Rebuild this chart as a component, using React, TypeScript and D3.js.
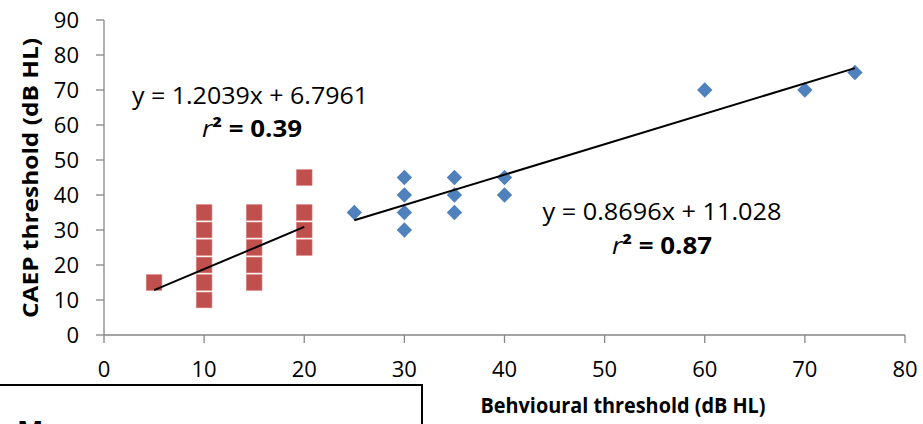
import React from 'react';
import * as d3 from 'd3';

// red series (squares)
const redX = [5, 10, 10, 10, 10, 10, 10, 15, 15, 15, 15, 15, 20, 20, 20, 20];
const redY = [15, 10, 15, 20, 25, 30, 35, 15, 20, 25, 30, 35, 25, 30, 35, 45];
// blue series (diamonds)
const blueX = [25, 30, 30, 30, 30, 35, 35, 35, 40, 40, 60, 70, 75];
const blueY = [35, 30, 35, 40, 45, 35, 40, 45, 40, 45, 70, 70, 75];

const xTicks = [0, 10, 20, 30, 40, 50, 60, 70, 80];
const yTicks = [0, 10, 20, 30, 40, 50, 60, 70, 80, 90];

// trendlines: slope, intercept, x range
const redFit = { m: 1.2039, b: 6.7961, from: 5, to: 20 };
const blueFit = { m: 0.8696, b: 11.028, from: 25, to: 75 };

const FONT = "'Open Sans', 'Lato', sans-serif";

const App = () => {
  const width = 923;
  const height = 424;

  const x = d3.scaleLinear().domain([0, 80]).range([104, 905]);
  const y = d3.scaleLinear().domain([0, 90]).range([335, 20]);

  const axisColor = '#868686';
  const red = '#C0504D';
  const blue = '#4F81BD';

  const fitLine = (f: { m: number; b: number; from: number; to: number }) =>
    d3.line<number>()
      .x(d => x(d))
      .y(d => y(f.m * d + f.b))([f.from, f.to]) || '';

  const diamond = d3.symbol().type(d3.symbolDiamond2).size(150)() || '';

  return (
    <svg
      width={width}
      height={height}
      style={{ position: 'absolute', left: 0, top: 0, background: 'white' }}
      fontFamily={FONT}
    >
      {/* axes */}
      <line x1={x(0)} x2={x(0)} y1={y(90)} y2={y(0)} stroke={axisColor} strokeWidth={1.3} />
      <line x1={x(0)} x2={x(80)} y1={y(0)} y2={y(0)} stroke={axisColor} strokeWidth={1.3} />
      {yTicks.map(t => (
        <g key={'y' + t}>
          <line x1={x(0) - 8} x2={x(0)} y1={y(t)} y2={y(t)} stroke={axisColor} strokeWidth={1.3} />
          <text x={79} y={y(t) + 8} textAnchor="end" fontSize={22} fill="#000">{t}</text>
        </g>
      ))}
      {xTicks.map(t => (
        <g key={'x' + t}>
          <line x1={x(t)} x2={x(t)} y1={y(0)} y2={y(0) + 8} stroke={axisColor} strokeWidth={1.3} />
          <text x={x(t)} y={377} textAnchor="middle" fontSize={22} fill="#000">{t}</text>
        </g>
      ))}

      {/* axis titles */}
      <text
        transform={`translate(38, 178) rotate(-90)`}
        textAnchor="middle"
        fontSize={21}
        fontWeight="bold"
        textLength={280}
        lengthAdjust="spacingAndGlyphs"
      >
        CAEP threshold (dB HL)
      </text>
      <text
        x={623}
        y={413}
        textAnchor="middle"
        fontSize={22}
        fontWeight="bold"
        textLength={285}
        lengthAdjust="spacingAndGlyphs"
      >
        Behvioural threshold (dB HL)
      </text>

      {/* red squares */}
      {redX.map((v, i) => (
        <rect
          key={'r' + i}
          x={x(v) - 7.8}
          y={y(redY[i]) - 7.8}
          width={15.6}
          height={15.6}
          fill={red}
          stroke="#d87a77"
          strokeWidth={0.6}
        />
      ))}

      {/* blue diamonds */}
      {blueX.map((v, i) => (
        <path key={'b' + i} d={diamond} transform={`translate(${x(v)},${y(blueY[i])})`} fill={blue} />
      ))}

      {/* trendlines */}
      <path d={fitLine(redFit)} stroke="#000" strokeWidth={2} fill="none" />
      <path d={fitLine(blueFit)} stroke="#000" strokeWidth={2} fill="none" />

      {/* equations */}
      <text x={250} y={104} textAnchor="middle" fontSize={23} textLength={236} lengthAdjust="spacingAndGlyphs">
        y = 1.2039x + 6.7961
      </text>
      <text x={252} y={137} textAnchor="middle" fontSize={23} textLength={100} lengthAdjust="spacingAndGlyphs">
        <tspan fontStyle="italic">r</tspan>
        <tspan fontWeight="bold">² = 0.39</tspan>
      </text>
      <text x={662} y={220} textAnchor="middle" fontSize={23} textLength={239} lengthAdjust="spacingAndGlyphs">
        y = 0.8696x + 11.028
      </text>
      <text x={662} y={254} textAnchor="middle" fontSize={23} textLength={100} lengthAdjust="spacingAndGlyphs">
        <tspan fontStyle="italic">r</tspan>
        <tspan fontWeight="bold">² = 0.87</tspan>
      </text>

      {/* box peeking in at bottom left */}
      <rect x={-5} y={385} width={427} height={100} fill="white" stroke="#000" strokeWidth={2} />
      <text x={17} y={442} fontSize={28} fontWeight="bold">M</text>
    </svg>
  );
};

export default App;
